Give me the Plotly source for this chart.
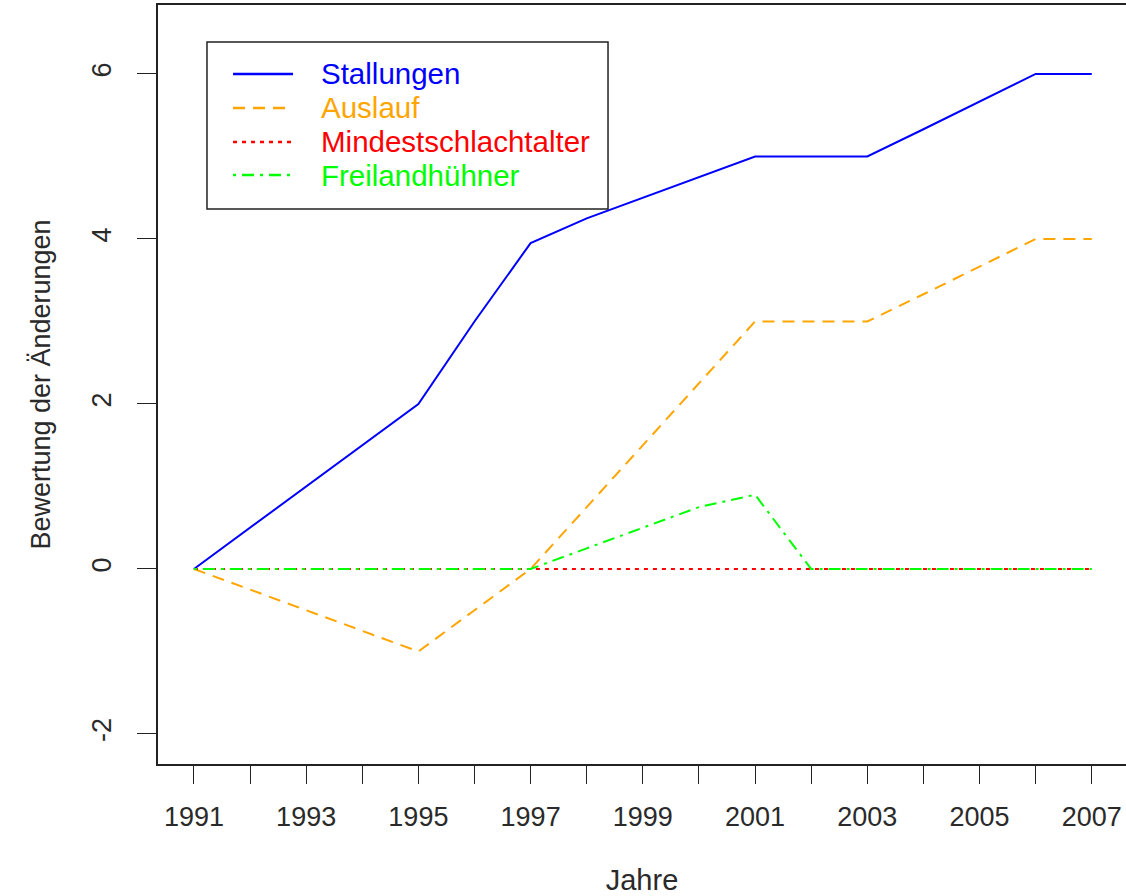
import plotly.graph_objects as go

years = [1991, 1992, 1993, 1994, 1995, 1996, 1997, 1998, 1999,
         2000, 2001, 2002, 2003, 2004, 2005, 2006, 2007]
stallungen = [0, 0.5, 1, 1.5, 2, 3, 3.95, 4.25, 4.5, 4.75, 5, 5, 5, 5.33, 5.67, 6, 6]
auslauf = [0, -0.25, -0.5, -0.75, -1, -0.5, 0, 0.75, 1.5, 2.25, 3, 3, 3, 3.33, 3.67, 4, 4]
mindestschlachtalter = [0, 0, 0, 0, 0, 0, 0, 0, 0, 0, 0, 0, 0, 0, 0, 0, 0]
freilandhuehner = [0, 0, 0, 0, 0, 0, 0, 0.25, 0.5, 0.75, 0.9, 0, 0, 0, 0, 0, 0]

series_names = ["Stallungen", "Auslauf", "Mindestschlachtalter", "Freilandhühner"]
series_values = [stallungen, auslauf, mindestschlachtalter, freilandhuehner]
colors = ["#0000FF", "#FFA500", "#FF0000", "#00FF00"]
dashes = ["solid", "12px,8px", "4px,5px", "3px,6px,12px,6px"]

x_tick_labels = [str(y) if y % 2 == 1 else "" for y in years]
y_ticks = [-2, 0, 2, 4, 6]

FONT = "Liberation Sans, Arial, Helvetica, sans-serif"

fig = go.Figure()
for name, vals, col, dash in zip(series_names, series_values, colors, dashes):
    fig.add_trace(go.Scatter(
        x=years, y=vals, mode="lines", name=name,
        line=dict(color=col, width=2, dash=dash),
        showlegend=False,
    ))

# Legend (drawn in paper coordinates, like R's legend box)
leg_x0, leg_x1, leg_y0, leg_y1 = 0.0506, 0.4649, 0.7312, 0.9513
row_y = [0.9091, 0.8643, 0.8195, 0.7760]
line_x0, line_x1, text_x = 0.0775, 0.1395, 0.1664

fig.add_shape(type="rect", xref="paper", yref="paper",
              x0=leg_x0, x1=leg_x1, y0=leg_y0, y1=leg_y1,
              line=dict(color="#222", width=1.5), fillcolor="white", layer="above")
for name, col, dash, ry in zip(series_names, colors, dashes, row_y):
    fig.add_shape(type="line", xref="paper", yref="paper",
                  x0=line_x0, x1=line_x1, y0=ry, y1=ry,
                  line=dict(color=col, width=2.5, dash=dash), layer="above")
    fig.add_annotation(xref="paper", yref="paper", x=text_x, y=ry,
                       xanchor="left", yanchor="middle", showarrow=False,
                       text=name, font=dict(family=FONT, size=29.5, color=col))

fig.update_layout(
    width=1126, height=896,
    margin=dict(l=158, r=0, t=5, b=132),
    paper_bgcolor="white", plot_bgcolor="white",
    font=dict(family=FONT, size=27, color="#2a2a2a"),
    showlegend=False,
    xaxis=dict(
        range=[1990.36, 2007.61],
        tickvals=years, ticktext=x_tick_labels,
        ticks="outside", ticklen=18, tickwidth=1, tickcolor="#222",
        ticklabelstandoff=10,
        showgrid=False, zeroline=False,
        showline=True, mirror=True, linecolor="#222", linewidth=1.5,
        title=dict(text="Jahre", font=dict(size=29), standoff=41),
    ),
    yaxis=dict(
        range=[-2.364, 6.836],
        tickvals=y_ticks, ticktext=[str(v) for v in y_ticks],
        tickangle=-90,
        ticks="outside", ticklen=19, tickwidth=1, tickcolor="#222",
        ticklabelstandoff=15,
        showgrid=False, zeroline=False,
        showline=True, mirror=False, linecolor="#222", linewidth=1.5,
        title=dict(text="Bewertung der Änderungen", font=dict(size=27), standoff=29),
    ),
)

fig.write_html("out.html", config={"displayModeBar": False},
               post_script="document.body.style.margin='0px';")
